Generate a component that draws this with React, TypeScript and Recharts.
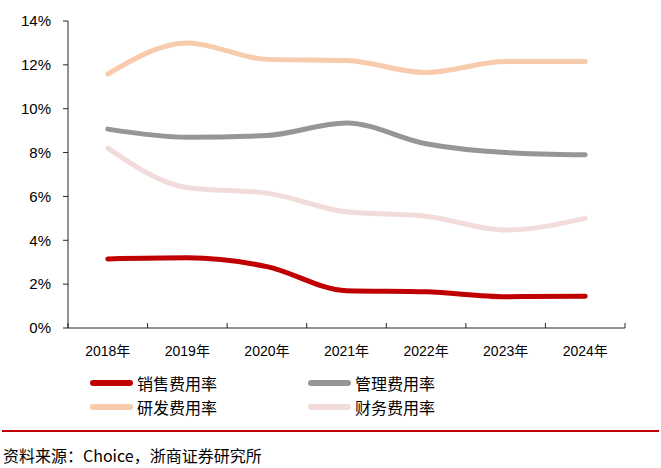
import React from "react";
import { LineChart, Line, XAxis, YAxis } from "recharts";

const years = ["2018年", "2019年", "2020年", "2021年", "2022年", "2023年", "2024年"];
const salesRate = [3.15, 3.2, 2.8, 1.7, 1.65, 1.43, 1.45];
const adminRate = [9.07, 8.7, 8.78, 9.35, 8.4, 8.0, 7.9];
const rdRate = [11.58, 13.0, 12.25, 12.2, 11.65, 12.15, 12.15];
const financeRate = [8.2, 6.4, 6.15, 5.3, 5.1, 4.47, 5.0];
const yTicks = [0, 2, 4, 6, 8, 10, 12, 14];

const series = [
  { key: "sales", name: "销售费用率", color: "#C00000", values: salesRate },
  { key: "admin", name: "管理费用率", color: "#969696", values: adminRate },
  { key: "rd", name: "研发费用率", color: "#F8CBAD", values: rdRate },
  { key: "finance", name: "财务费用率", color: "#F2DCDB", values: financeRate },
];

const data = years.map((year, i) => {
  const row: Record<string, string | number> = { year };
  series.forEach((s) => (row[s.key] = s.values[i]));
  return row;
});

const AXIS = "#262626";
const CJK = '"Noto Sans CJK SC", sans-serif';

function YearTick(props: any) {
  const { x, y, payload, index, width, visibleTicksCount } = props;
  const band = width / visibleTicksCount;
  const left = x - band / 2;
  return (
    <g>
      <line x1={left} x2={left} y1={y} y2={y - 5} stroke={AXIS} strokeWidth={1} />
      {index === visibleTicksCount - 1 && (
        <line x1={x + band / 2} x2={x + band / 2} y1={y} y2={y - 5} stroke={AXIS} strokeWidth={1} />
      )}
      <text
        x={x}
        y={y + 24}
        textAnchor="middle"
        dominantBaseline="middle"
        fontSize={14}
        fill="#000"
        fontFamily='"Liberation Sans", Arial, "Noto Sans CJK SC", sans-serif'
      >
        {payload.value}
      </text>
    </g>
  );
}

function LegendBox() {
  const rows = [
    [series[0], series[1]],
    [series[2], series[3]],
  ];
  return (
    <div style={{ position: "absolute", left: 0, top: 372, width: 661, height: 50 }}>
      {rows.map((row, r) =>
        row.map((s, c) => (
          <div
            key={s.key}
            style={{
              position: "absolute",
              left: c === 0 ? 90 : 308,
              top: r * 24,
              height: 22,
              display: "flex",
              alignItems: "center",
            }}
          >
            <div
              style={{
                width: 43,
                height: 6,
                borderRadius: 3,
                background: s.color,
                marginRight: 4,
              }}
            />
            <span style={{ fontFamily: CJK, fontSize: 16, color: "#000", lineHeight: "22px" }}>
              {s.name}
            </span>
          </div>
        ))
      )}
    </div>
  );
}

export default function App() {
  return (
    <div
      style={{
        position: "absolute",
        left: 0,
        top: 0,
        width: 661,
        height: 468,
        background: "#fff",
      }}
    >
      <LineChart
        width={661}
        height={370}
        data={data}
        margin={{ top: 21, right: 36, bottom: 0, left: 0 }}
      >
        <XAxis
          dataKey="year"
          scale="band"
          stroke={AXIS}
          tickLine={false}
          tickSize={0}
          tickMargin={0}
          height={42}
          interval={0}
          tick={<YearTick />}
        />
        <YAxis
          domain={[0, 14]}
          ticks={yTicks}
          width={68}
          stroke={AXIS}
          tickSize={5}
          tickMargin={12}
          tickFormatter={(v: number) => `${v}%`}
          tick={{ fontSize: 15, fill: "#000", fontFamily: '"Liberation Sans", Arial, sans-serif' }}
        />
        {series.map((s) => (
          <Line
            key={s.key}
            type="monotone"
            dataKey={s.key}
            name={s.name}
            stroke={s.color}
            strokeWidth={5}
            strokeLinecap="round"
            dot={false}
            activeDot={false}
            isAnimationActive={false}
          />
        ))}
      </LineChart>
      <LegendBox />
      <div
        style={{
          position: "absolute",
          left: 2,
          top: 430,
          width: 657,
          height: 2,
          background: "#C00000",
        }}
      />
      <div
        style={{
          position: "absolute",
          left: 3,
          top: 444,
          fontFamily: CJK,
          fontSize: 16,
          lineHeight: "22px",
          color: "#000",
          whiteSpace: "nowrap",
        }}
      >
        资料来源：Choice，浙商证券研究所
      </div>
    </div>
  );
}
